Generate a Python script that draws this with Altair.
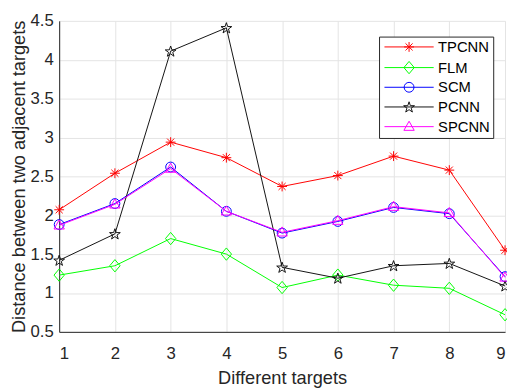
import altair as alt
import pandas as pd
import numpy as np

# ---- data ----
targets = [1, 2, 3, 4, 5, 6, 7, 8, 9]
names = ["TPCNN", "FLM", "SCM", "PCNN", "SPCNN"]
tpcnn = [2.07, 2.54, 2.94, 2.74, 2.37, 2.51, 2.76, 2.58, 1.55]
flm = [1.23, 1.35, 1.70, 1.50, 1.07, 1.23, 1.10, 1.06, 0.72]
scm = [1.88, 2.15, 2.62, 2.05, 1.77, 1.92, 2.10, 2.02, 1.21]
pcnn = [1.42, 1.76, 4.11, 4.41, 1.33, 1.19, 1.35, 1.38, 1.09]
spcnn = [1.87, 2.14, 2.60, 2.05, 1.78, 1.93, 2.11, 2.03, 1.20]
y_ticks = [0.5, 1, 1.5, 2, 2.5, 3, 3.5, 4, 4.5]

series = [tpcnn, flm, scm, pcnn, spcnn]
colors = ["#ff0000", "#00ff00", "#0000ff", "#111111", "#ff00ff"]

# ---- marker paths (unit coords, scaled by sqrt(size)/2) ----
def star_path(r_out=1.15, r_in=0.45):
    pts = []
    for k in range(10):
        ang = np.deg2rad(-90 + 36 * k)
        r = r_out if k % 2 == 0 else r_in
        pts.append((r * np.cos(ang), r * np.sin(ang) + 0.1))
    s = "M" + "L".join(f"{x:.3f},{y:.3f}" for x, y in pts) + "Z"
    return s

asterisk = "M0,-1V1M-1,0H1M-0.72,-0.72L0.72,0.72M-0.72,0.72L0.72,-0.72"
diamond = "M0,-1.25L1.05,0L0,1.25L-1.05,0Z"
circle = "M1,0A1,1,0,1,1,-1,0A1,1,0,1,1,1,0Z"
triangle = "M0,-1.1L1.05,0.75L-1.05,0.75Z"
markers = [asterisk, diamond, circle, star_path(), triangle]
legend_paths = ["M-5,0H5" + m for m in markers]

rows = []
for n, vals in zip(names, series):
    for t, v in zip(targets, vals):
        rows.append({"series": n, "target": t, "value": v})
df = pd.DataFrame(rows)

FONT = "Liberation Sans"
TXT = "#262626"

x_enc = alt.X(
    "target:Q",
    scale=alt.Scale(domain=[1, 9], nice=False, zero=False),
    axis=alt.Axis(values=targets, title="Different targets", format="d",
                  grid=True, ticks=False, labelPadding=14, titlePadding=7),
)
y_enc = alt.Y(
    "value:Q",
    scale=alt.Scale(domain=[0.5, 4.5], nice=False, zero=False),
    axis=alt.Axis(values=y_ticks, title="Distance between two adjacent targets",
                  format="~g", grid=True, ticks=False, labelPadding=6, titlePadding=2),
)

layers = []
for n, c, m in zip(names, colors, markers):
    sub = df[df["series"] == n]
    base = alt.Chart(sub)
    layers.append(base.mark_line(color=c, strokeWidth=1).encode(x=x_enc, y=y_enc))
    layers.append(
        base.mark_point(shape=m, size=100, color=c, filled=False, strokeWidth=1, opacity=1)
        .encode(x=x_enc, y=y_enc)
    )

legend = alt.Legend(
    title=None, orient="none", legendX=325, legendY=16,
    fillColor="white", strokeColor=TXT, padding=3,
    labelFont=FONT, labelFontSize=15, labelColor="#000000",
    symbolSize=100, symbolStrokeWidth=1, symbolOffset=20, labelOffset=22,
    rowPadding=4,
)
legend_layer = alt.Chart(df).mark_point(size=100, filled=False, strokeWidth=1, opacity=0).encode(
    x=x_enc, y=y_enc,
    color=alt.Color("series:N", scale=alt.Scale(domain=names, range=colors), legend=legend),
    shape=alt.Shape("series:N", scale=alt.Scale(domain=names, range=legend_paths), legend=legend),
)
layers.append(legend_layer)

chart = (
    alt.layer(*layers)
    .properties(width=453, height=316, autosize="none",
                padding={"left": 52, "top": 10, "right": 2, "bottom": 54})
    .configure_view(stroke=None)
    .configure_axis(
        labelFont=FONT, labelFontSize=17, labelColor=TXT,
        titleFont=FONT, titleFontSize=18.5, titleFontWeight="normal", titleColor=TXT,
        domainColor=TXT, domainWidth=1, gridColor="#e3e3e3", gridWidth=1,
    )
)

chart.save("out.html", embed_options={"renderer": "svg", "actions": False})
